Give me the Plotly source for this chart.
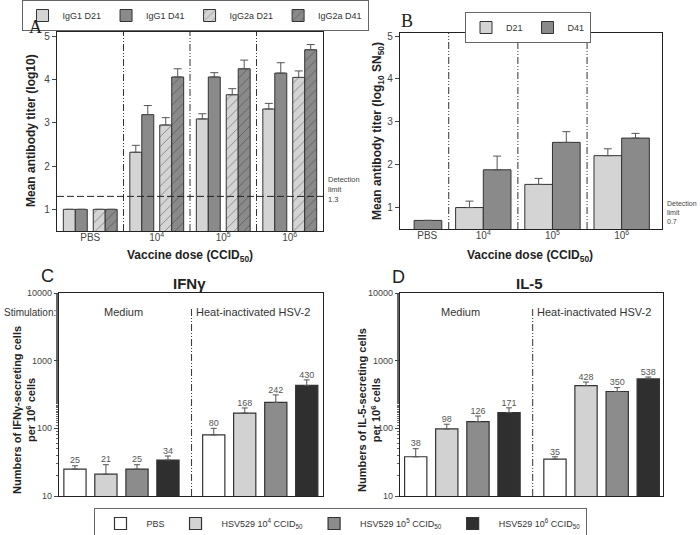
import plotly.graph_objects as go

# ---------------- DATA ----------------
# Panel A (IgG isotype titers, log10)
A_ticks = ["PBS", "10<sup>4</sup>", "10<sup>5</sup>", "10<sup>6</sup>"]
A_igg1_d21 = [1.0, 2.32, 3.09, 3.32]
A_igg1_d21_err = [0, 0.16, 0.12, 0.13]
A_igg1_d41 = [1.0, 3.19, 4.06, 4.15]
A_igg1_d41_err = [0, 0.21, 0.10, 0.24]
A_igg2a_d21 = [1.0, 2.95, 3.65, 4.05]
A_igg2a_d21_err = [0, 0.17, 0.14, 0.15]
A_igg2a_d41 = [1.0, 4.06, 4.25, 4.69]
A_igg2a_d41_err = [0, 0.19, 0.20, 0.12]
A_detection_limit = 1.3

# Panel B (neutralizing titers, log10 SN50)
B_ticks = ["PBS", "10<sup>4</sup>", "10<sup>5</sup>", "10<sup>6</sup>"]
B_d21 = [None, 1.0, 1.54, 2.21]
B_d21_err = [0, 0.15, 0.14, 0.16]
B_d41 = [0.7, 1.88, 2.52, 2.62]
B_d41_err = [0, 0.32, 0.25, 0.11]
B_detection_limit = 0.7

# Panels C & D (ELISpot, per 10^6 cells); groups: Medium, Heat-inactivated HSV-2
CD_series = ["PBS", "HSV529 10<sup>4</sup> CCID<sub>50</sub>",
             "HSV529 10<sup>5</sup> CCID<sub>50</sub>", "HSV529 10<sup>6</sup> CCID<sub>50</sub>"]
C_values = [[25, 80], [21, 168], [25, 242], [34, 430]]
C_errors = [[3, 20], [8, 32], [4, 70], [5, 90]]
D_values = [[38, 35], [98, 428], [126, 350], [171, 538]]
D_errors = [[12, 3], [17, 55], [26, 50], [30, 35]]

# ---------------- STYLE ----------------
W, H = 700, 535
def px(x): return x / W
def py(y): return 1 - y / H

SANS = "Liberation Sans, Arial, sans-serif"
SERIF = "Liberation Serif, Times New Roman, serif"
LIGHT = "#d4d4d4"
DARK = "#8a8a8a"
CD_COLORS = ["#ffffff", "#d2d2d2", "#8c8c8c", "#2f2f2f"]
EDGE = "#333333"
TICKFONT = dict(family=SANS, size=10, color="#444")

fig = go.Figure()

def errs(arr, color="#555", width=4):
    return dict(type="data", array=arr, arrayminus=[0] * len(arr), symmetric=False,
                color=color, thickness=1, width=width, visible=True)

# ---- Panel A ----
A_pos = list(range(len(A_ticks)))
A_specs = [
    ("IgG1 D21", A_igg1_d21, A_igg1_d21_err, LIGHT, "", -0.315),
    ("IgG1 D41", A_igg1_d41, A_igg1_d41_err, DARK, "", -0.135),
    ("IgG2a D21", A_igg2a_d21, A_igg2a_d21_err, LIGHT, "/", 0.135),
    ("IgG2a D41", A_igg2a_d41, A_igg2a_d41_err, DARK, "/", 0.315),
]
bw_A = 0.18
for name, vals, err, col, pat, c in A_specs:
    fig.add_trace(go.Bar(
        x=A_pos, y=vals, name=name, width=bw_A, offset=c - bw_A / 2,
        marker=dict(color=col, line=dict(color=EDGE, width=1),
                    pattern=dict(shape=pat, fgcolor="#2a2a2a", size=7, solidity=0.12)),
        error_y=errs(err), xaxis="x", yaxis="y", legend="legend"))

# ---- Panel B ----
B_pos = list(range(len(B_ticks)))
bw_B = 0.4
for name, vals, err, col, c in [("D21", B_d21, B_d21_err, LIGHT, -0.2),
                                ("D41", B_d41, B_d41_err, DARK, 0.2)]:
    fig.add_trace(go.Bar(
        x=B_pos, y=vals, name=name, width=bw_B, offset=c - bw_B / 2,
        marker=dict(color=col, line=dict(color=EDGE, width=1)),
        error_y=errs(err), xaxis="x2", yaxis="y2", legend="legend2"))

# ---- Panels C & D ----
CD_pos = [0, 1]
CD_centers = [-0.335, -0.112, 0.112, 0.335]
bw_CD = 0.16
for panel, values, errors, xa, ya in [("C", C_values, C_errors, "x3", "y3"),
                                      ("D", D_values, D_errors, "x4", "y4")]:
    for k, name in enumerate(CD_series):
        fig.add_trace(go.Bar(
            x=CD_pos, y=values[k], name=name, width=bw_CD, offset=CD_centers[k] - bw_CD / 2,
            marker=dict(color=CD_COLORS[k], line=dict(color=EDGE, width=1.2)),
            error_y=errs(errors[k], width=3), xaxis=xa, yaxis=ya,
            legend="legend3", showlegend=(panel == "C")))
        fig.add_trace(go.Scatter(
            x=[p + CD_centers[k] for p in CD_pos],
            y=[v + e for v, e in zip(values[k], errors[k])],
            mode="text", text=[str(v) for v in values[k]], textposition="top center",
            textfont=dict(family=SANS, size=9, color="#555"),
            xaxis=xa, yaxis=ya, showlegend=False, hoverinfo="skip"))

# ---------------- AXES ----------------
frame = dict(showline=True, mirror=True, linecolor="#222", linewidth=1.2,
             showgrid=False, zeroline=False, tickfont=TICKFONT)
cd_tick = dict(family=SANS, size=9, color="#444")

xA = [57, 323]; xB = [400, 662]; xC = [59, 323]; xD = [400, 663]
yAB = [231, 32]; yB = [229, 33]; yCD = [496, 293]

fig.update_layout(
    width=W, height=H, margin=dict(l=0, r=0, t=0, b=0, pad=0, autoexpand=False),
    paper_bgcolor="white", plot_bgcolor="white", barmode="overlay",
    xaxis=dict(domain=[px(xA[0]), px(xA[1])], range=[-0.5, 3.5], tickvals=A_pos,
               ticktext=A_ticks, ticks="", ticklen=0, ticklabelstandoff=-3, anchor="y", **frame),
    yaxis=dict(domain=[py(yAB[0]), py(yAB[1])], range=[0.5, 5.1], tickvals=[1, 2, 3, 4, 5],
               ticks="outside", ticklen=4, anchor="x", **frame),
    xaxis2=dict(domain=[px(xB[0]), px(xB[1])], range=[-0.204, 3.583], tickvals=[0.19, 1, 2, 3],
                ticktext=B_ticks, ticks="", ticklen=0, ticklabelstandoff=-3, anchor="y2", **frame),
    yaxis2=dict(domain=[py(yB[0]), py(yB[1])], range=[0.5, 5.07], tickvals=[1, 2, 3, 4, 5],
                ticks="outside", ticklen=4, anchor="x2", **frame),
    xaxis3=dict(domain=[px(xC[0]), px(xC[1])], range=[-0.45, 1.452], showticklabels=False,
                ticks="", anchor="y3", **frame),
    yaxis3=dict(domain=[py(yCD[0]), py(yCD[1])], type="log", range=[1, 4],
                tickvals=[10, 100, 1000, 10000], ticktext=["10", "100", "1000", "10000"],
                ticks="outside", ticklen=4, minor=dict(ticks="outside", ticklen=2, tickcolor="#666"),
                anchor="x3", **frame),
    xaxis4=dict(domain=[px(xD[0]), px(xD[1])], range=[-0.448, 1.441], showticklabels=False,
                ticks="", anchor="y4", **frame),
    yaxis4=dict(domain=[py(yCD[0]), py(yCD[1])], type="log", range=[1, 4],
                tickvals=[10, 100, 1000, 10000], ticktext=["10", "100", "1000", "10000"],
                ticks="outside", ticklen=4, minor=dict(ticks="outside", ticklen=2, tickcolor="#666"),
                anchor="x4", **frame),
)
fig.update_yaxes(tickfont=cd_tick, selector=dict(type="log"))

# legends
leg_common = dict(orientation="h", bgcolor="white", bordercolor="#666", borderwidth=1,
                  font=dict(family=SANS, size=9, color="#333"), xanchor="center",
                  yanchor="top", itemclick=False, traceorder="normal", tracegroupgap=0)
fig.update_layout(
    legend=dict(x=px(195), y=py(0), **leg_common),
    legend2=dict(x=px(528), y=py(12), **leg_common),
    legend3=dict(x=px(340), y=py(508), itemwidth=42, **leg_common),
)

# ---------------- SHAPES ----------------
DASHDOT = "7px,2px,1px,2px,1px,2px"
shapes = []
for xv in [0.5, 1.5, 2.5]:
    shapes.append(dict(type="line", xref="x", yref="y domain", x0=xv, x1=xv, y0=0, y1=1,
                       line=dict(color="#333", width=1, dash=DASHDOT)))
    shapes.append(dict(type="line", xref="x2", yref="y2 domain", x0=xv, x1=xv, y0=0, y1=1,
                       line=dict(color="#333", width=1, dash=DASHDOT)))
for xa, ya in [("x3", "y3"), ("x4", "y4")]:
    shapes.append(dict(type="line", xref=xa, yref=ya + " domain", x0=0.505, x1=0.505, y0=0, y1=0.93,
                       line=dict(color="#333", width=1, dash=DASHDOT)))
shapes.append(dict(type="line", xref="x domain", yref="y", x0=0, x1=1,
                   y0=A_detection_limit, y1=A_detection_limit,
                   line=dict(color="#222", width=1, dash="7px,3px")))
fig.update_layout(shapes=shapes)

# ---------------- ANNOTATIONS ----------------
ann = []
def text(x, y, t, size=11, color="#333", family=SANS, xanchor="center", yanchor="middle",
         angle=0, align="center"):
    ann.append(dict(x=px(x), y=py(y), xref="paper", yref="paper", text=t, showarrow=False,
                    font=dict(family=family, size=size, color=color), xanchor=xanchor,
                    yanchor=yanchor, textangle=angle, align=align))

text(35, 27, "A", size=18, color="#222", family=SERIF)
text(407, 21, "B", size=18, color="#222", family=SERIF)
text(47, 276, "C", size=18, color="#222")
text(399, 277, "D", size=18, color="#222")
text(190, 283, "<b>IFNγ</b>", size=15, color="#222")
text(529, 283, "<b>IL-5</b>", size=15, color="#222")

text(31, 131, "<b>Mean antibody titer (log10)</b>", size=12, color="#222", angle=-90)
text(378, 131, "<b>Mean antibody titer (log<sub>10</sub> SN<sub>50</sub>)</b>", size=12,
     color="#222", angle=-90)
text(190, 256, "<b>Vaccine dose (CCID<sub>50</sub>)</b>", size=12, color="#222")
text(530, 256, "<b>Vaccine dose (CCID<sub>50</sub>)</b>", size=12, color="#222")

text(24, 410, "<b>Numbers of IFNγ-secreting cells<br>per 10<sup>6</sup> cells</b>", size=11,
     color="#222", angle=-90)
text(369, 410, "<b>Numbers of IL-5-secreting cells<br>per 10<sup>6</sup> cells</b>", size=11,
     color="#222", angle=-90)

text(326, 189, "Detection<br>limit<br>" + str(A_detection_limit), size=7.5, color="#444",
     xanchor="left", align="left")
text(665, 212, "Detection<br>limit<br>" + str(B_detection_limit), size=7, color="#444",
     xanchor="left", align="left")

text(2, 312, "Stimulation:", size=10, color="#333", xanchor="left")
text(124, 312, "Medium", size=11, color="#333")
text(253, 312, "Heat-inactivated HSV-2", size=11, color="#333")
text(460, 312, "Medium", size=11, color="#333")
text(594, 312, "Heat-inactivated HSV-2", size=11, color="#333")

fig.update_layout(annotations=ann)

# remove the default page margin so the 700x535 figure fills the window exactly
fig.write_html("out.html", config={"displayModeBar": False},
               post_script="document.body.style.margin='0';")
